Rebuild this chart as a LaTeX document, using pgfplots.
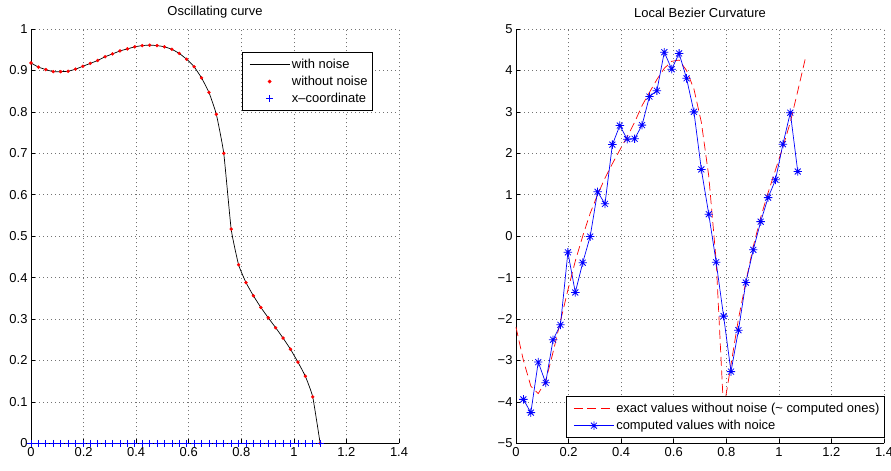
\documentclass[border=0pt]{standalone}
\usepackage{fontspec}
\setmainfont{Liberation Sans}
\usepackage{pgfplots}
\pgfplotsset{compat=1.18}
\pgfdeclareplotmark{matstar}{%
  \pgfpathmoveto{\pgfqpoint{-\pgfplotmarksize}{0pt}}\pgfpathlineto{\pgfqpoint{\pgfplotmarksize}{0pt}}%
  \pgfpathmoveto{\pgfqpoint{0pt}{-\pgfplotmarksize}}\pgfpathlineto{\pgfqpoint{0pt}{\pgfplotmarksize}}%
  \pgfpathmoveto{\pgfqpoint{-0.707\pgfplotmarksize}{-0.707\pgfplotmarksize}}\pgfpathlineto{\pgfqpoint{0.707\pgfplotmarksize}{0.707\pgfplotmarksize}}%
  \pgfpathmoveto{\pgfqpoint{-0.707\pgfplotmarksize}{0.707\pgfplotmarksize}}\pgfpathlineto{\pgfqpoint{0.707\pgfplotmarksize}{-0.707\pgfplotmarksize}}%
  \pgfusepathqstroke}
\pgfplotsset{
  matlab/.style={
    scale only axis, width=368bp, height=414.3bp,
    axis lines=left, axis line style={-, line width=0.8bp, black},
    tick align=inside, major tick length=4bp,
    tick style={black, line width=0.5bp},
    grid=major, grid style={black!55, line width=0.5bp, dash pattern=on 0.8bp off 3.2bp},
    font=\fontsize{13}{15.5}\selectfont,
    title style={yshift=1.5bp, font=\fontsize{13}{15.5}\selectfont},
    xticklabel style={yshift=-0.5bp},
    legend cell align=left,
    legend style={draw=black, fill=white, line width=0.7bp, row sep=2.2bp, inner ysep=4.5bp, font=\fontsize{13}{15.5}\selectfont},
    legend image code/.code={\path (-4bp,0bp); \draw[mark repeat=2,mark phase=2,##1] plot coordinates {(0bp,0bp) (20bp,0bp) (40bp,0bp)};},
    clip=false,
  },
}
\begin{document}
\begin{tikzpicture}
\useasboundingbox (0,0) rectangle (891bp,471bp);
% ---------------- left
\begin{axis}[matlab,
  at={(31bp,27.7bp)}, anchor=south west,
  title={Oscillating curve},
  xmin=0, xmax=1.4, ymin=0, ymax=1,
  xtick={0,0.2,0.4,0.6,0.8,1,1.2,1.4},
  xticklabels={0,0.2,0.4,0.6,0.8,1,1.2,1.4},
  ytick={0,0.1,0.2,0.3,0.4,0.5,0.6,0.7,0.8,0.9,1},
  yticklabels={0,0.1,0.2,0.3,0.4,0.5,0.6,0.7,0.8,0.9,1},
  legend style={at={(0.929,0.944)}, anchor=north east},
]
\addplot[black, line width=0.7bp, smooth, tension=0.25] coordinates {
(0.0000,0.918) (0.0282,0.908) (0.0564,0.902) (0.0846,0.897) (0.1128,0.897)
(0.1410,0.898) (0.1692,0.903) (0.1974,0.910) (0.2256,0.917) (0.2538,0.924)
(0.2821,0.933) (0.3103,0.940) (0.3385,0.947) (0.3667,0.952) (0.3949,0.957)
(0.4231,0.960) (0.4513,0.961) (0.4795,0.960) (0.5077,0.957) (0.5359,0.951)
(0.5641,0.941) (0.5923,0.927) (0.6205,0.909) (0.6487,0.882) (0.6769,0.847)
(0.7051,0.794) (0.7333,0.700) (0.7615,0.517) (0.7897,0.431) (0.8179,0.388)
(0.8462,0.356) (0.8744,0.328) (0.9026,0.303) (0.9308,0.279) (0.9590,0.254)
(0.9872,0.227) (1.0154,0.196) (1.0436,0.162) (1.0718,0.112) (1.1000,0.000)
};
\addlegendentry{with noise}
\addplot[red, only marks, mark=*, mark size=1.5bp] coordinates {
(0.0000,0.918) (0.0282,0.908) (0.0564,0.902) (0.0846,0.897) (0.1128,0.897)
(0.1410,0.898) (0.1692,0.903) (0.1974,0.910) (0.2256,0.917) (0.2538,0.924)
(0.2821,0.933) (0.3103,0.940) (0.3385,0.947) (0.3667,0.952) (0.3949,0.957)
(0.4231,0.960) (0.4513,0.961) (0.4795,0.960) (0.5077,0.957) (0.5359,0.951)
(0.5641,0.941) (0.5923,0.927) (0.6205,0.909) (0.6487,0.882) (0.6769,0.847)
(0.7051,0.794) (0.7333,0.700) (0.7615,0.517) (0.7897,0.431) (0.8179,0.388)
(0.8462,0.356) (0.8744,0.328) (0.9026,0.303) (0.9308,0.279) (0.9590,0.254)
(0.9872,0.227) (1.0154,0.196) (1.0436,0.162) (1.0718,0.112) (1.1000,0.000)
};
\addlegendentry{without noise}
\addplot[blue, only marks, mark=+, mark size=3.5bp, mark options={line width=0.7bp}] coordinates {
(0.0000,0) (0.0282,0) (0.0564,0) (0.0846,0) (0.1128,0)
(0.1410,0) (0.1692,0) (0.1974,0) (0.2256,0) (0.2538,0)
(0.2821,0) (0.3103,0) (0.3385,0) (0.3667,0) (0.3949,0)
(0.4231,0) (0.4513,0) (0.4795,0) (0.5077,0) (0.5359,0)
(0.5641,0) (0.5923,0) (0.6205,0) (0.6487,0) (0.6769,0)
(0.7051,0) (0.7333,0) (0.7615,0) (0.7897,0) (0.8179,0)
(0.8462,0) (0.8744,0) (0.9026,0) (0.9308,0) (0.9590,0)
(0.9872,0) (1.0154,0) (1.0436,0) (1.0718,0) (1.1000,0)
};
\addlegendentry{x\textendash coordinate}
\end{axis}
% ---------------- right
\begin{axis}[matlab,
  at={(516bp,27.7bp)}, anchor=south west,
  title={Local Bezier Curvature},
  xmin=0, xmax=1.4, ymin=-5, ymax=5,
  xtick={0,0.2,0.4,0.6,0.8,1,1.2,1.4},
  xticklabels={0,0.2,0.4,0.6,0.8,1,1.2,1.4},
  ytick={-5,-4,-3,-2,-1,0,1,2,3,4,5},
  yticklabels={−5,−4,−3,−2,−1,0,1,2,3,4,5},
  legend style={at={(1.002,0.013)}, anchor=south east},
]
\addplot[red, line width=0.7bp, dash pattern=on 9bp off 4.5bp] coordinates {
(0.0000,-2.20) (0.0282,-3.00) (0.0564,-3.62) (0.0846,-3.80) (0.1128,-3.50)
(0.1410,-2.80) (0.1692,-2.05) (0.1974,-1.30) (0.2256,-0.60) (0.2538,0.00)
(0.2821,0.55) (0.3103,1.00) (0.3385,1.40) (0.3667,1.75) (0.3949,2.08)
(0.4231,2.40) (0.4513,2.75) (0.4795,3.15) (0.5077,3.47) (0.5359,3.78)
(0.5641,4.05) (0.5923,4.22) (0.6205,4.25) (0.6487,4.00) (0.6769,3.55)
(0.7051,2.75) (0.7333,1.45) (0.7615,-0.60) (0.7897,-4.20) (0.8179,-3.10)
(0.8462,-2.00) (0.8744,-1.10) (0.9026,-0.25) (0.9308,0.45) (0.9590,1.05)
(0.9872,1.60) (1.0154,2.15) (1.0436,2.75) (1.0718,3.50) (1.1000,4.27)
};
\addlegendentry{exact values without noise (\textasciitilde{} computed ones)}
\addplot[blue, line width=0.7bp, mark=matstar, mark size=4.2bp, mark options={solid, line width=0.8bp}] coordinates {
(0.0282,-3.94) (0.0564,-4.26) (0.0846,-3.04) (0.1128,-3.54)
(0.1410,-2.50) (0.1692,-2.14) (0.1974,-0.39) (0.2256,-1.36) (0.2538,-0.64)
(0.2821,-0.01) (0.3103,1.07) (0.3385,0.78) (0.3667,2.21) (0.3949,2.67)
(0.4231,2.34) (0.4513,2.35) (0.4795,2.68) (0.5077,3.37) (0.5359,3.51)
(0.5641,4.44) (0.5923,4.03) (0.6205,4.41) (0.6487,3.81) (0.6769,3.00)
(0.7051,1.61) (0.7333,0.53) (0.7615,-0.63) (0.7897,-1.93) (0.8179,-3.27)
(0.8462,-2.27) (0.8744,-1.12) (0.9026,-0.33) (0.9308,0.35) (0.9590,0.93)
(0.9872,1.36) (1.0154,2.22) (1.0436,2.98) (1.0718,1.56)
};
\addlegendentry{computed values with noice}
\end{axis}
\end{tikzpicture}
\end{document}
